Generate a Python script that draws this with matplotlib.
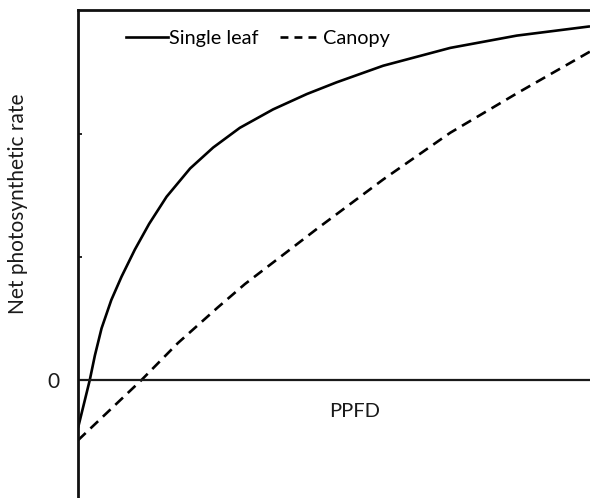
import matplotlib
matplotlib.use("Agg")
import matplotlib.pyplot as plt
from matplotlib.lines import Line2D

plt.rcParams['font.family'] = ['Lato', 'DejaVu Sans']

# PPFD (arbitrary units, 0-100) and net photosynthetic rate (arbitrary units)
x_single = [0, 1.3, 2.3, 3.3, 4.6, 6.5, 8.5, 11.1, 13.9, 17.3, 21.9, 26.4, 31.6,
            38.1, 44.7, 50.5, 59.6, 72.7, 85.7, 100]
y_single = [-0.39, -0.17, 0.0, 0.2, 0.42, 0.65, 0.84, 1.06, 1.27, 1.49, 1.72, 1.89, 2.05,
            2.2, 2.325, 2.42, 2.555, 2.70, 2.80, 2.875]

x_canopy = [0, 12.4, 19.5, 27.3, 32.6, 41.7, 46.7, 59.6, 72.7, 85.7, 100]
y_canopy = [-0.49, 0.0, 0.30, 0.59, 0.78, 1.07, 1.23, 1.63, 2.01, 2.33, 2.67]

series_labels = ["Single leaf", "Canopy"]
xlabel = "PPFD"
ylabel = "Net photosynthetic rate"
ytick_vals = [0, 1, 2]
ytick_labels = ["0", "", ""]

W, H = 590, 498
fig = plt.figure(figsize=(W / 100, H / 100), dpi=100)
ax = fig.add_axes([78 / W, 0, 1 - 78 / W, 1 - 10 / H])

lw = 1.9
ax.plot(x_single, y_single, color='black', lw=lw, solid_capstyle='butt', solid_joinstyle='round')
ax.plot(x_canopy, y_canopy, color='black', lw=lw, linestyle=(0, (4.0, 2.5)))
ax.axhline(0, color='#1a1a1a', lw=1.6)

ax.set_xlim(0, 100)
ax.set_ylim(-118 / 123, 370 / 123)

for s in ['right', 'bottom']:
    ax.spines[s].set_visible(False)
for s in ['left', 'top']:
    ax.spines[s].set_linewidth(2.0)
    ax.spines[s].set_color('#111111')

ax.set_xticks([])
ax.set_yticks(ytick_vals)
ax.set_yticklabels(ytick_labels, fontsize=15, color='#1a1a1a')
ax.tick_params(axis='y', direction='in', length=3, width=1.2, pad=13)

ax.text(54.1, -0.26, xlabel, fontsize=14.5, ha='center', va='center', color='#1a1a1a')
fig.text(18 / W, 1 - 204 / H, ylabel, rotation=90, fontsize=15, ha='center', va='center', color='#1a1a1a')

fs_leg = 14.3
handles = [Line2D([], [], color='black', lw=lw),
           Line2D([], [], color='black', lw=lw, linestyle=(0, (3.0, 2.3)))]
leg = ax.legend(handles, series_labels, loc='upper left', bbox_to_anchor=(40 / 512, 0.975),
                ncol=2, frameon=False, fontsize=fs_leg, handlelength=2.1, handletextpad=0.05,
                columnspacing=1.1, borderaxespad=0)

fig.savefig('out.png', dpi=100)
